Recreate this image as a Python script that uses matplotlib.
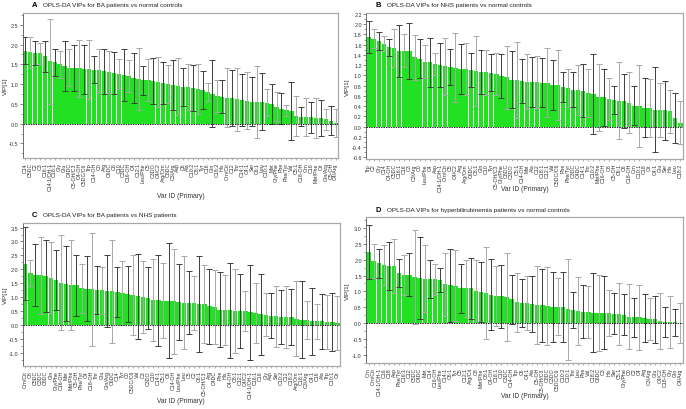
import numpy as np
import matplotlib
matplotlib.use("Agg")
import matplotlib.pyplot as plt
from matplotlib.ticker import AutoMinorLocator

# panel A: BA vs normal controls
labels_a = ["C14", "C5DC", "C2", "C3", "C16:1", "C14:1/OH-1", "C18:1", "Gly", "Glu", "C4DC",
            "C5-OH/C3", "C4-OH", "C5DC/C6", "Trp", "C14-OH", "C0", "Arg", "C6DC", "C8", "C10",
            "C3DC", "C16-OH", "C4", "C12:1", "Leu/Phe", "C5", "C3DO", "C4/C2", "Arg/Orn", "C8DC",
            "C3/Arg", "Asp", "C6", "Ala", "C10:2", "C8:1", "Tyr", "C16", "Gln", "C18:2",
            "His", "Orn/Cit", "C12", "Thr", "C14:1", "C4:1", "Ser", "C6:1", "Leu", "C10:1",
            "Met", "Gly/Phe", "Phe", "Phe/Tyr", "Val", "C5:1", "C18-OH", "Orn", "C18", "Met/Phe",
            "Cit", "Gln/Arg", "C5-OH", "C4/Arg"]
vip_a = [1.85, 1.80, 1.78, 1.78, 1.70, 1.58, 1.55, 1.50, 1.45, 1.42,
         1.40, 1.40, 1.38, 1.37, 1.36, 1.35, 1.33, 1.30, 1.28, 1.25,
         1.23, 1.20, 1.15, 1.13, 1.10, 1.10, 1.08, 1.05, 1.03, 1.00,
         0.97, 0.95, 0.93, 0.92, 0.90, 0.88, 0.85, 0.80, 0.76, 0.70,
         0.68, 0.66, 0.64, 0.62, 0.60, 0.58, 0.56, 0.55, 0.55, 0.53,
         0.50, 0.43, 0.38, 0.34, 0.32, 0.20, 0.18, 0.17, 0.16, 0.15,
         0.14, 0.11, 0.08, 0.02]
upper_a = [2.20, 2.20, 2.08, 2.05, 2.10, 2.65, 1.90, 1.85, 2.08, 1.90,
           1.98, 2.12, 2.00, 2.12, 1.70, 1.90, 1.90, 1.83, 1.80, 1.63,
           1.88, 1.60, 1.78, 1.92, 1.47, 1.63, 1.65, 1.68, 1.55, 1.48,
           1.60, 1.67, 1.42, 1.50, 1.48, 1.52, 1.32, 1.02, 1.60, 1.10,
           1.10, 1.40, 1.35, 1.42, 1.25, 1.30, 1.17, 1.45, 1.27, 0.87,
           1.00, 0.80, 0.78, 0.48, 1.05, 0.70, 0.42, 0.65, 0.55, 0.65,
           0.60, 0.37, 0.45, 0.37]

# panel B: NHS vs normal controls
labels_b = ["Trp", "C2", "Gly", "C14", "C4-OH", "C5DC", "C16:1", "C16", "C3", "C3/Arg",
            "C0", "Leu/Phe", "C4", "Asp", "C14:1/OH-1", "Orn/Cit", "C5", "C4/C2", "Arg", "Arg/Orn",
            "C6DC", "C8:1", "Gln", "C10", "Tyr", "C5-OH/C3", "Gly/Phe", "C8DC", "C3DO", "C5:1",
            "C14-OH", "Met", "Ala", "C12", "C18:1", "C12:1", "Val", "C5DC/C6", "Phe", "Phe/Tyr",
            "C3DC", "C4DC", "C14:1", "Thr", "C10:2", "Met/Phe", "C16-OH", "C8", "C5-OH", "C6:1",
            "C6", "C18-OH", "Orn", "C10:1", "C18", "Cit", "C4:1", "Glu", "Ser", "His",
            "Leu", "C18:2"]
vip_b = [1.75, 1.72, 1.67, 1.62, 1.55, 1.54, 1.48, 1.48, 1.48, 1.35,
         1.33, 1.27, 1.26, 1.22, 1.20, 1.18, 1.16, 1.15, 1.12, 1.12,
         1.10, 1.08, 1.06, 1.06, 1.05, 1.02, 0.98, 0.96, 0.92, 0.91,
         0.90, 0.88, 0.87, 0.87, 0.86, 0.86, 0.82, 0.81, 0.78, 0.75,
         0.72, 0.71, 0.70, 0.65, 0.63, 0.57, 0.57, 0.53, 0.52, 0.51,
         0.50, 0.47, 0.41, 0.40, 0.37, 0.36, 0.33, 0.32, 0.32, 0.30,
         0.17, 0.08]
upper_b = [2.07, 1.90, 1.84, 1.76, 1.72, 1.91, 1.99, 1.80, 2.03, 1.78,
           1.72, 1.60, 1.74, 1.43, 1.63, 1.74, 1.51, 1.82, 1.61, 1.63,
           1.43, 1.76, 1.49, 1.50, 1.41, 1.43, 1.41, 1.57, 1.47, 1.65,
           1.33, 1.41, 1.35, 1.38, 1.34, 1.53, 1.31, 1.49, 1.07, 1.12,
           1.06, 1.20, 1.22, 1.12, 1.41, 1.22, 1.12, 0.94, 0.79, 1.27,
           1.02, 1.06, 0.79, 1.20, 0.94, 0.93, 1.16, 0.85, 0.90, 0.72,
           0.65, 0.50]

# panel C: BA vs NHS
labels_c = ["Orn/Cit", "C8", "C5DC", "C3DC", "C8DC", "Gln", "Gly/Phe", "C16-OH", "Met", "Met/Phe",
            "C5-OH", "Phe/Tyr", "C4", "C18-OH", "Thr", "Glu", "Gln/Arg", "C6DC", "C14", "Tyr",
            "C0", "C5DC/C6", "Val", "C3", "C3DO", "C10", "C14:1", "C5:1", "C6", "C14-OH",
            "Leu/Phe", "Leu", "C5", "C2", "C6:1", "C5-OH/C3", "Arg", "C4DC", "Phe", "His",
            "C4-OH", "C8:1", "C12:1", "C4/C2", "C14:1/OH-1", "C16:1", "C18", "Gly", "Asp", "Ser",
            "C10:2", "C12", "C18:2", "Arg/Orn", "C18:1", "C3/Arg", "C4:1", "C16", "Ala", "Trp",
            "C10:1", "Cit"]
vip_c = [2.20, 1.85, 1.80, 1.78, 1.75, 1.70, 1.62, 1.52, 1.48, 1.45,
         1.43, 1.32, 1.30, 1.28, 1.26, 1.24, 1.21, 1.20, 1.18, 1.15,
         1.12, 1.07, 1.03, 1.00, 0.97, 0.90, 0.88, 0.87, 0.86, 0.85,
         0.82, 0.80, 0.79, 0.78, 0.76, 0.75, 0.66, 0.65, 0.55, 0.54,
         0.53, 0.51, 0.50, 0.48, 0.46, 0.43, 0.38, 0.36, 0.32, 0.30,
         0.29, 0.28, 0.27, 0.22, 0.19, 0.17, 0.13, 0.12, 0.12, 0.11,
         0.09, 0.07]
upper_c = [3.52, 2.32, 2.92, 3.17, 3.04, 2.98, 2.71, 3.24, 2.82, 3.07,
           2.53, 2.20, 2.46, 3.32, 2.13, 2.09, 2.51, 3.07, 2.09, 2.31,
           2.13, 2.50, 2.56, 2.31, 2.09, 2.38, 2.52, 2.21, 2.93, 2.74,
           2.18, 2.46, 1.92, 1.74, 2.49, 2.17, 2.02, 1.99, 1.89, 1.81,
           2.24, 2.02, 1.82, 1.20, 2.17, 1.52, 1.84, 1.14, 1.13, 1.41,
           1.27, 1.41, 1.28, 1.56, 1.59, 0.84, 1.34, 0.76, 1.11, 1.09,
           1.13, 1.05]

# panel D: hyperbilirubinemia vs normal controls
labels_d = ["Orn", "Orn/Cit", "C14:1/OH-1", "C16", "C18", "Asp", "Phe/Tyr", "C16:1", "C12", "C5DC",
            "C4DC", "Met", "C14", "C16-OH", "Leu/Phe", "C14:1", "C6:1", "Tyr", "C5", "C12:1",
            "Arg/Cit", "C8", "Met/Phe", "C8:1", "C4-OH", "C18:1", "C10", "C3DC", "C14-OH", "Trp",
            "C6", "C4:1", "Ala", "C5-OH", "C5-OH/C3", "C8DC", "C3DO", "C5DC/C6", "C10:2", "C10:1",
            "Thr", "Leu", "Phe", "Val", "C18:2", "C6DC", "C3", "His", "Ser", "C5:1",
            "Gly/Phe", "C0", "C2", "C4", "Arg", "C3/Arg", "Glu", "C4/C2", "C18-OH", "Gly",
            "Gln", "C4/Arg"]
vip_d = [2.25, 1.96, 1.88, 1.84, 1.80, 1.80, 1.57, 1.52, 1.52, 1.44,
         1.42, 1.40, 1.39, 1.38, 1.35, 1.22, 1.20, 1.18, 1.10, 1.10,
         1.10, 1.02, 0.98, 0.95, 0.90, 0.86, 0.85, 0.82, 0.75, 0.65,
         0.63, 0.62, 0.60, 0.57, 0.56, 0.55, 0.52, 0.51, 0.50, 0.44,
         0.40, 0.38, 0.36, 0.35, 0.33, 0.32, 0.32, 0.31, 0.30, 0.28,
         0.27, 0.20, 0.18, 0.18, 0.17, 0.13, 0.12, 0.06, 0.04, 0.03,
         0.02, 0.01]
upper_d = [3.10, 2.50, 2.35, 2.47, 2.57, 2.65, 2.01, 2.16, 2.20, 2.92,
           2.70, 2.45, 2.00, 1.87, 1.73, 2.22, 2.35, 2.29, 1.87, 2.00,
           2.06, 1.98, 1.91, 2.41, 2.03, 1.81, 1.84, 2.20, 1.53, 1.59,
           1.38, 1.47, 1.47, 1.81, 1.72, 1.78, 1.62, 1.41, 1.61, 2.03,
           0.97, 1.45, 1.19, 1.18, 1.57, 1.52, 1.47, 1.03, 0.95, 1.25,
           0.91, 1.22, 0.79, 1.20, 0.92, 0.80, 0.86, 0.95, 0.52, 0.84,
           0.45, 0.64]

titles = ["OPLS-DA VIPs for BA patients vs normal controls",
          "OPLS-DA VIPs for NHS patients vs normal controls",
          "OPLS-DA VIPs for BA patients vs NHS patients",
          "OPLS-DA VIPs for hyperbilirubinemia patients vs normal controls"]
letters = ["A", "B", "C", "D"]

plt.rcParams["font.family"] = ["Liberation Sans", "DejaVu Sans"]
fig = plt.figure(figsize=(6.86, 4.10), dpi=100)

# [left, bottom, width, height] in figure fractions
boxes = [[0.033, 0.612, 0.460, 0.354],
         [0.5335, 0.610, 0.462, 0.356],
         [0.033, 0.105, 0.4626, 0.349],
         [0.5335, 0.112, 0.462, 0.356]]
ylims = [(-0.87, 2.8), (-0.63, 2.22), (-1.48, 3.67), (-1.26, 3.34)]
yticks = [np.arange(-0.5, 2.51, 0.5), np.arange(-0.6, 2.21, 0.2),
          np.arange(-1.0, 3.51, 0.5), np.arange(-1.0, 3.01, 0.5)]
xlab_y = [0.52, 0.537, 0.02, 0.032]
ylab_x = [0.0075, 0.507, 0.0075, 0.507]

data = [(labels_a, vip_a, upper_a), (labels_b, vip_b, upper_b),
        (labels_c, vip_c, upper_c), (labels_d, vip_d, upper_d)]

for i, (labs, vals, ups) in enumerate(data):
    ax = fig.add_axes(boxes[i])
    vals = np.array(vals)
    err = np.array(ups) - vals
    x = np.arange(len(vals))
    ax.bar(x, vals, width=0.88, color="#22e022", edgecolor="none", zorder=2)
    for j in range(len(vals)):
        c = "#3c3c3c" if j % 2 == 0 else "#a8a8a8"
        ax.errorbar(x[j], vals[j], yerr=err[j], fmt="none", ecolor=c,
                    elinewidth=0.7, capsize=2.0, capthick=0.7, zorder=3)
    ax.axhline(0, color="#222222", lw=0.7, ls=(0, (1.5, 1)), zorder=4)
    ax.set_xlim(-0.5, len(vals) - 0.5)
    ax.set_ylim(*ylims[i])
    ax.set_yticks(yticks[i])
    ax.set_yticklabels(["%.1f" % v for v in yticks[i]])
    ax.yaxis.set_minor_locator(AutoMinorLocator(2))
    ax.set_xticks(x)
    ax.set_xticklabels(labs, rotation=90, fontsize=3.8, color="#333333")
    ax.tick_params(axis="y", which="major", labelsize=4.0, labelcolor="#333333",
                   length=2, width=0.5, color="#555555", pad=1)
    ax.tick_params(axis="y", which="minor", length=1.2, width=0.4, color="#555555")
    ax.tick_params(axis="x", length=1.5, width=0.4, color="#777777", pad=1.5)
    for s in ax.spines.values():
        s.set_color("#a8a8a8")
        s.set_linewidth(0.9)
    ax.spines["left"].set_color("#555555")
    ax.spines["left"].set_linewidth(0.6)
    yc = boxes[i][1] + boxes[i][3] * 0.5
    fig.text(ylab_x[i], yc, "VIP[1]", fontsize=4.6, color="#333333",
             rotation=90, ha="center", va="center")
    fig.text(boxes[i][0] + boxes[i][2] * 0.5, xlab_y[i], "Var ID (Primary)",
             fontsize=4.8, color="#333333", ha="center", va="center")
    ax.text(0.03, 1.055, letters[i], transform=ax.transAxes, fontsize=5.5,
            fontweight="bold", va="center", ha="left")
    ax.text(0.065, 1.055, titles[i], transform=ax.transAxes, fontsize=4.6,
            va="center", ha="left", color="#222222")

fig.savefig("out.png", dpi=100)
